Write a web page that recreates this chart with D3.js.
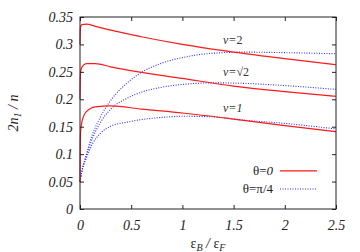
<!DOCTYPE html>
<html>
<head>
<meta charset="utf-8">
<script src="https://cdn.jsdelivr.net/npm/d3@7"></script>
<style>
  body { margin: 0; background: #fff; }
  text { font-family: "Liberation Serif", "DejaVu Serif", serif; }
</style>
</head>
<body>
<svg id="chart" width="360" height="252"></svg>
<script>
// tick values
var xTicks = [0, 0.5, 1, 1.5, 2, 2.5];
var xTickLabels = ["0", "0.5", "1", "1.5", "2", "2.5"];
var yTicks = [0, 0.05, 0.1, 0.15, 0.2, 0.25, 0.3, 0.35];
var yTickLabels = ["0", "0.05", "0.1", "0.15", "0.2", "0.25", "0.3", "0.35"];

// x positions (eps_B / eps_F) where the curves were read
var xRed = [0, 0.002, 0.006, 0.02, 0.06, 0.15, 0.3, 0.6, 1, 1.5, 2, 2.5];
var xBlue = [0, 0.02, 0.06, 0.12, 0.2, 0.3, 0.45, 0.6, 0.8, 1, 1.3, 1.6, 2, 2.5];

// theta = 0 (solid red)
var red_nu1  = [0.05, 0.10, 0.14, 0.16, 0.177, 0.186, 0.188, 0.182, 0.175, 0.164, 0.152, 0.141];
var red_nuR2 = [0.20, 0.232, 0.250, 0.259, 0.265, 0.265, 0.259, 0.249, 0.238, 0.224, 0.214, 0.2055];
var red_nu2  = [0.30, 0.322, 0.332, 0.336, 0.337, 0.333, 0.326, 0.314, 0.300, 0.286, 0.274, 0.263];

// theta = pi/4 (dotted blue)
var blue_nu1  = [0.05, 0.07, 0.092, 0.118, 0.138, 0.151, 0.158, 0.163, 0.167, 0.169, 0.168, 0.162, 0.156, 0.146];
var blue_nuR2 = [0.05, 0.07, 0.096, 0.128, 0.158, 0.182, 0.201, 0.213, 0.222, 0.227, 0.230, 0.229, 0.225, 0.218];
var blue_nu2  = [0.05, 0.07, 0.098, 0.135, 0.168, 0.198, 0.228, 0.249, 0.266, 0.276, 0.284, 0.286, 0.285, 0.283];

var svg = d3.select("#chart");
var margin = {left: 80, right: 24, top: 17, bottom: 43};
var W = 360, H = 252;

var x = d3.scaleLinear().domain([0, 2.5]).range([margin.left, W - margin.right]);
var y = d3.scaleLinear().domain([0, 0.35]).range([H - margin.bottom, margin.top]);

var plot = svg.append("g");

// curves
var line = d3.line()
  .x(function(d) { return x(d[0]); })
  .y(function(d) { return y(d[1]); })
  .curve(d3.curveMonotoneX);

function pairs(xs, ys) { return xs.map(function(v, i) { return [v, ys[i]]; }); }

[blue_nu1, blue_nuR2, blue_nu2].forEach(function(s) {
  plot.append("path")
    .attr("d", line(pairs(xBlue, s)))
    .attr("fill", "none")
    .attr("stroke", "#3030ff")
    .attr("stroke-width", 1.1)
    .attr("stroke-dasharray", "1,1.5");
});
[red_nu1, red_nuR2, red_nu2].forEach(function(s) {
  plot.append("path")
    .attr("d", line(pairs(xRed, s)))
    .attr("fill", "none")
    .attr("stroke", "#ff1a1a")
    .attr("stroke-width", 1.2);
});

// axes with inward ticks on all four sides
var tl = 4;
var bottomAxis = svg.append("g").attr("transform", "translate(0," + y(0) + ")")
  .call(d3.axisBottom(x).tickValues(xTicks).tickSizeInner(-tl).tickSizeOuter(0)
    .tickFormat(function(d, i) { return xTickLabels[i]; }));
svg.append("g").attr("transform", "translate(0," + y(0.35) + ")")
  .call(d3.axisTop(x).tickValues(xTicks).tickSizeInner(-tl).tickSizeOuter(0).tickFormat(""));
svg.append("g").attr("transform", "translate(" + x(0) + ",0)")
  .call(d3.axisLeft(y).tickValues(yTicks).tickSizeInner(-tl).tickSizeOuter(0)
    .tickFormat(function(d, i) { return yTickLabels[i]; }))
  .selectAll(".tick text").attr("x", -7);
svg.append("g").attr("transform", "translate(" + x(2.5) + ",0)")
  .call(d3.axisRight(y).tickValues(yTicks).tickSizeInner(-tl).tickSizeOuter(0).tickFormat(""));

svg.selectAll(".domain").remove();
svg.selectAll(".tick line").attr("stroke", "#222");
svg.selectAll(".tick text")
  .attr("font-family", "Liberation Serif, serif")
  .attr("font-style", "italic")
  .attr("font-size", 14)
  .attr("fill", "#222");
bottomAxis.selectAll(".tick text").attr("y", 11);

svg.append("rect")
  .attr("x", x(0)).attr("y", y(0.35))
  .attr("width", x(2.5) - x(0)).attr("height", y(0) - y(0.35))
  .attr("fill", "none").attr("stroke", "#222").attr("stroke-width", 1);

// axis titles
var ylab = svg.append("text")
  .attr("transform", "translate(18," + ((y(0) + y(0.35)) / 2) + ") rotate(-90)")
  .attr("text-anchor", "middle")
  .attr("font-size", 14).attr("font-style", "italic").attr("fill", "#222");
ylab.append("tspan").text("2n");
ylab.append("tspan").attr("font-size", 10).attr("dy", 3).text("1");
ylab.append("tspan").attr("dy", -3).text(" / n");

var xlab = svg.append("text")
  .attr("x", (x(0) + x(2.5)) / 2).attr("y", 248)
  .attr("text-anchor", "middle")
  .attr("font-size", 14).attr("fill", "#222");
xlab.append("tspan").text("ε");
xlab.append("tspan").attr("font-size", 10).attr("dy", 3).attr("font-style", "italic").text("B");
xlab.append("tspan").attr("dy", -3).attr("font-style", "italic").text(" / ");
xlab.append("tspan").text("ε");
xlab.append("tspan").attr("font-size", 10).attr("dy", 3).attr("font-style", "italic").text("F");

// curve labels
var nuLabels = [["2", 0.30], ["√2", 0.242], ["1", 0.176]];
nuLabels.forEach(function(d) {
  var t = svg.append("text")
    .attr("x", 223).attr("y", y(d[1]))
    .attr("font-size", 12).attr("fill", "#333");
  t.append("tspan").attr("font-style", "italic").text("ν=");
  t.append("tspan").attr("font-style", d[0] === "1" ? "italic" : "normal").text(d[0]);
});

// legend
var legend = [
  {theta: "0", color: "#ff1a1a", dash: null, yv: 0.0695},
  {theta: "π/4", color: "#3030ff", dash: "1,1.5", yv: 0.0365}
];
legend.forEach(function(d) {
  var ly = y(d.yv);
  var t = svg.append("text")
    .attr("x", 273).attr("y", ly + 4)
    .attr("text-anchor", "end")
    .attr("font-size", 13).attr("fill", "#222");
  t.append("tspan").text("θ=");
  t.append("tspan").attr("font-style", d.theta === "0" ? "italic" : "normal").text(d.theta);
  svg.append("line")
    .attr("x1", 280).attr("x2", 317).attr("y1", ly).attr("y2", ly)
    .attr("stroke", d.color).attr("stroke-width", d.dash ? 1.1 : 1.2)
    .attr("stroke-dasharray", d.dash);
});
</script>
</body>
</html>
